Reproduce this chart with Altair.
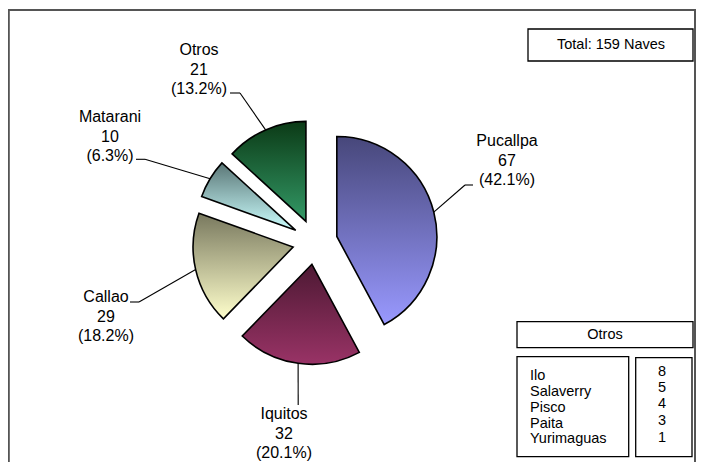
import math
import altair as alt
import pandas as pd

# ---------------- data ----------------
ports = ["Pucallpa", "Iquitos", "Callao", "Matarani", "Otros"]
counts = [67, 32, 29, 10, 21]
top_colors = ["#47477a", "#4d1933", "#78785e", "#5a7676", "#0b3a16"]
bottom_colors = ["#9999ff", "#993366", "#ffffcc", "#ccffff", "#339966"]

otros_names = ["Ilo", "Salaverry", "Pisco", "Paita", "Yurimaguas"]
otros_counts = [8, 5, 4, 3, 1]

# ---------------- layout (chart pixel units) ----------------
W, H = 688, 454
CX, CY = 307, 234          # pie centre
R = 100                    # pie radius
EXPLODE = 22.5             # slice offset
FONT = "Liberation Sans"
LH = 19.5                  # label line height

label_x = [499, 276, 98, 102, 191]
label_y = [133, 406, 289, 109, 42]      # centre of first line
elbow_x = [457, 290.2, 131, 137, 232]
elbow_y = [177, 397, 294, 151.3, 85]
end_x = [465, 290.2, 122, 128, 222]
end_y = [177, 397, 294, 151.3, 85]

TOTAL = sum(counts)

rows = []
cum = 0
for i, (p, c) in enumerate(zip(ports, counts)):
    start, end = cum, cum + c
    cum = end
    mid = (start + end) / 2 / TOTAL * 2 * math.pi
    rows.append(dict(
        name=p, value=c, start=start, end=end,
        cx=CX + EXPLODE * math.sin(mid), cy=CY - EXPLODE * math.cos(mid),
        sx=CX + (EXPLODE + R) * math.sin(mid), sy=CY - (EXPLODE + R) * math.cos(mid),
        bx=elbow_x[i], by=elbow_y[i], ex=end_x[i], ey=end_y[i],
        lx=label_x[i], ly=label_y[i],
        label=f"{p}\n{c}\n({c / TOTAL * 100:.1f}%)",
    ))
df = pd.DataFrame(rows)

xs = alt.Scale(domain=[0, W], range=[0, W])
ys = alt.Scale(domain=[0, H], range=[0, H])

def X(f):
    return alt.X(f, type="quantitative", scale=xs, axis=None)

def Y(f):
    return alt.Y(f, type="quantitative", scale=ys, axis=None)

layers = []

# outer frame
frame = pd.DataFrame([dict(x=0.8, x2=687, y=2, y2=480)])
layers.append(alt.Chart(frame).mark_rect(fill="white", stroke="#555555", strokeWidth=2).encode(
    x=X("x"), x2="x2", y=Y("y"), y2="y2"))

# boxes
boxes = pd.DataFrame([
    dict(x=520, x2=685, y=21, y2=53),
    dict(x=509, x2=685, y=313.7, y2=339.7),
    dict(x=509, x2=620.7, y=348.7, y2=448.7),
    dict(x=627.7, x2=684, y=349.7, y2=448.7),
])
layers.append(alt.Chart(boxes).mark_rect(fill="white", stroke="black", strokeWidth=1.3).encode(
    x=X("x"), x2="x2", y=Y("y"), y2="y2"))

# slices
for i, p in enumerate(ports):
    grad = alt.Gradient(
        gradient="linear",
        stops=[alt.GradientStop(color=top_colors[i], offset=0),
               alt.GradientStop(color=bottom_colors[i], offset=1)],
        x1=0, x2=0, y1=0, y2=1,
    )
    layers.append(
        alt.Chart(df).transform_filter(alt.datum.name == p)
        .mark_arc(fill=grad, stroke="black", strokeWidth=1.6, outerRadius=R)
        .encode(
            x=X("cx"), y=Y("cy"),
            theta=alt.Theta("start:Q", scale=alt.Scale(domain=[0, TOTAL], range=[0, 2 * math.pi]), stack=False),
            theta2="end:Q",
        )
    )

# leader lines
layers.append(alt.Chart(df).mark_rule(color="black", strokeWidth=1.1).encode(
    x=X("sx"), y=Y("sy"), x2="bx", y2="by"))
layers.append(alt.Chart(df).mark_rule(color="black", strokeWidth=1.1).encode(
    x=X("bx"), y=Y("by"), x2="ex", y2="ey"))

# slice labels
layers.append(alt.Chart(df).mark_text(
    font=FONT, fontSize=16, lineBreak="\n", lineHeight=LH,
    align="center", baseline="middle", color="black").encode(
    x=X("lx"), y=Y("ly"), text="label:N"))

# total text
tot = pd.DataFrame([dict(x=603, y=37, t=f"Total: {TOTAL} Naves")])
layers.append(alt.Chart(tot).mark_text(font=FONT, fontSize=14.5, align="center", baseline="middle",
                                       color="black").encode(x=X("x"), y=Y("y"), text="t:N"))

# Otros legend title
ttl = pd.DataFrame([dict(x=597, y=327, t="Otros")])
layers.append(alt.Chart(ttl).mark_text(font=FONT, fontSize=14.5, align="center", baseline="middle",
                                       color="black").encode(x=X("x"), y=Y("y"), text="t:N"))

name_y = [367.5, 383.5, 399.5, 416, 430.7]
value_y = [364, 380, 396, 412.5, 429.5]
leg = pd.DataFrame(dict(name=otros_names, value=[str(v) for v in otros_counts],
                        nx=[522] * 5, vx=[654] * 5, ny=name_y, vy=value_y))
layers.append(alt.Chart(leg).mark_text(font=FONT, fontSize=14.5, align="left", baseline="middle",
                                       color="black").encode(x=X("nx"), y=Y("ny"), text="name:N"))
layers.append(alt.Chart(leg).mark_text(font=FONT, fontSize=14.5, align="center", baseline="middle",
                                       color="black").encode(x=X("vx"), y=Y("vy"), text="value:N"))

chart = alt.layer(*layers).properties(
    width=W, height=H, padding=0,
    autosize=alt.AutoSizeParams(type="none"),
    background="white",
).configure_view(stroke=None)

chart.save("out.html", embed_options={"renderer": "svg", "actions": False})
